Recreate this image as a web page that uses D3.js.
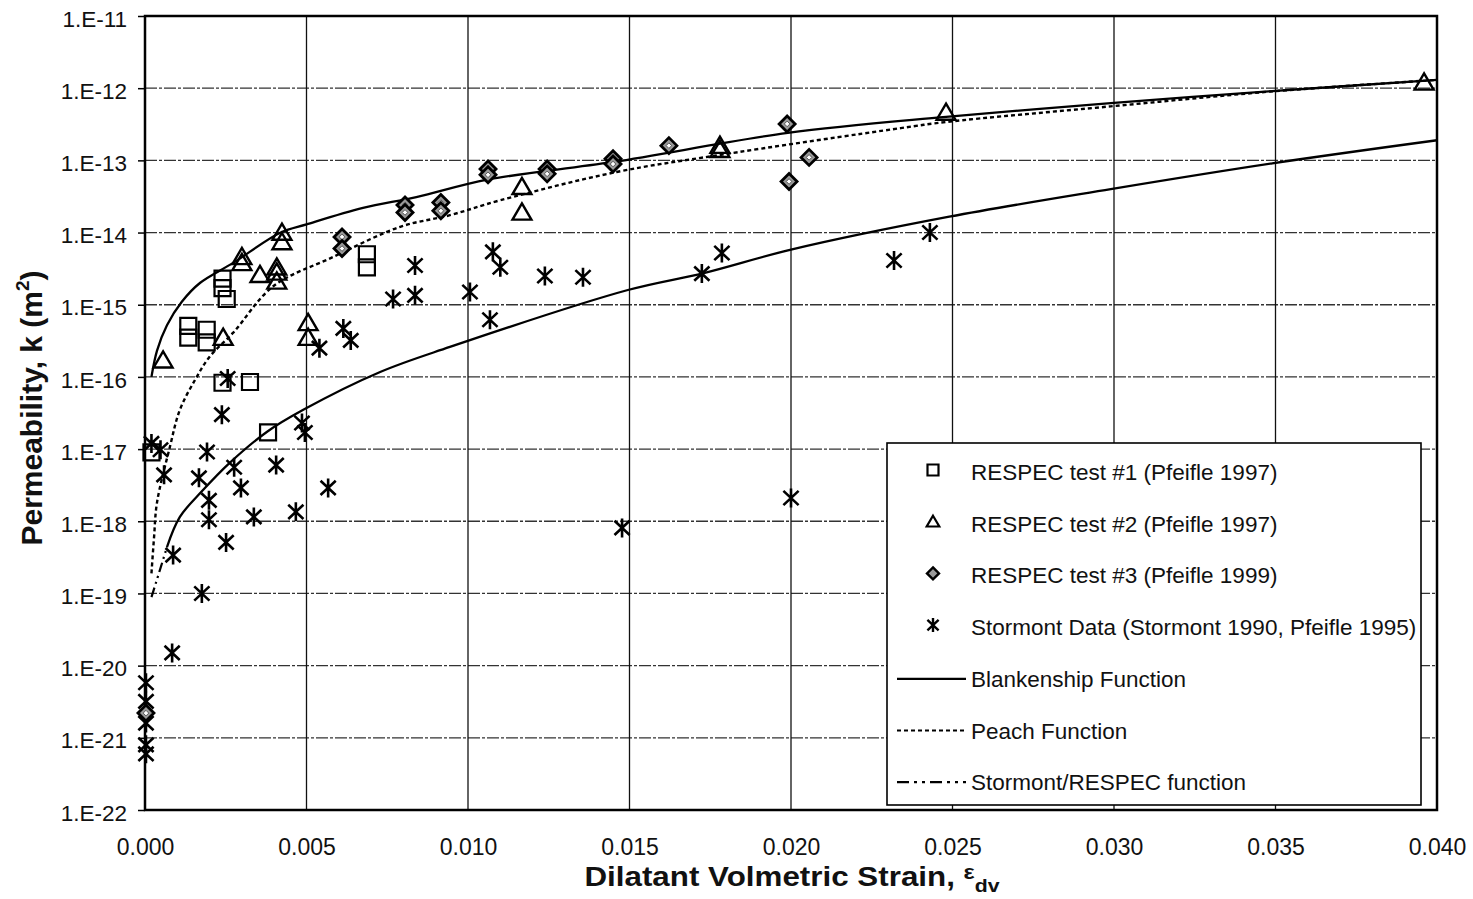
<!DOCTYPE html>
<html>
<head>
<meta charset="utf-8">
<script src="https://cdn.jsdelivr.net/npm/d3@7"></script>
<style>
  body { margin: 0; background: #fff; }
  svg { font-family: "Liberation Sans", Arial, sans-serif; }
</style>
</head>
<body>
<svg id="chart" width="1473" height="899"></svg>
<script>
// values: [strain, permeability m^2]
const respec1 = [
  [0.0002, 9.0e-18], [0.00134, 5.1e-16], [0.00134, 3.5e-16], [0.00191, 4.5e-16], [0.00191, 3.0e-16],
  [0.0024, 2.3e-15], [0.0024, 1.7e-15], [0.00253, 1.2e-15], [0.0024, 8.3e-17], [0.00325, 8.5e-17],
  [0.00381, 1.7e-17], [0.00687, 5.0e-15], [0.00687, 3.3e-15]
]
const respec2 = [
  [0.00056, 1.7e-16], [0.0030, 4.6e-15], [0.0030, 3.8e-15], [0.00356, 2.6e-15], [0.00408, 3.3e-15],
  [0.00408, 2.8e-15], [0.00408, 2.1e-15], [0.00424, 1.0e-14], [0.00424, 7.4e-15], [0.00242, 3.5e-16],
  [0.00505, 5.6e-16], [0.00505, 3.5e-16], [0.01167, 4.3e-14], [0.01167, 1.9e-14], [0.0178, 1.6e-13],
  [0.0178, 1.4e-13], [0.0248, 4.6e-13], [0.0396, 1.2e-12]
]
const respec3 = [
  [0.00003, 2.2e-21], [0.0061, 8.7e-15], [0.0061, 6.0e-15], [0.00805, 2.4e-14], [0.00805, 1.9e-14],
  [0.00916, 2.6e-14], [0.00916, 2.0e-14], [0.01062, 7.6e-14], [0.01062, 6.3e-14], [0.01245, 7.6e-14],
  [0.01245, 6.5e-14], [0.01449, 1.05e-13], [0.01449, 8.9e-14], [0.01622, 1.6e-13], [0.01988, 3.2e-13],
  [0.02056, 1.1e-13], [0.01994, 5.1e-14]
]
const stormont = [
  [0.00836, 3.5e-15], [0.00836, 1.35e-15], [0.00768, 1.2e-15], [0.01006, 1.5e-15], [0.01068, 6.2e-16],
  [0.01077, 5.4e-15], [0.011, 3.3e-15], [0.01238, 2.5e-15], [0.01356, 2.4e-15], [0.01724, 2.7e-15],
  [0.01786, 5.2e-15], [0.02319, 4.1e-15], [0.0243, 1.0e-14], [0.02, 2.1e-18], [0.01477, 8.1e-19],
  [0.00614, 4.7e-16], [0.00637, 3.2e-16], [0.0054, 2.5e-16], [0.00256, 9.5e-17], [0.00238, 3.0e-17],
  [0.00486, 2.3e-17], [0.00495, 1.7e-17], [0.0002, 1.2e-17], [0.00048, 9.8e-18], [0.00059, 4.4e-18],
  [0.00192, 9.1e-18], [0.00167, 4.0e-18], [0.00276, 5.6e-18], [0.00297, 2.9e-18], [0.00198, 1.95e-18],
  [0.00198, 1.05e-18], [0.00337, 1.15e-18], [0.00406, 6.0e-18], [0.00467, 1.35e-18], [0.00567, 2.9e-18],
  [0.00251, 5.1e-19], [0.00087, 3.4e-19], [0.00176, 1.0e-19], [0.00084, 1.5e-20], [0.00003, 5.8e-21],
  [0.00003, 3.2e-21], [0.00003, 1.6e-21], [0.00003, 8.0e-22], [0.00003, 6.0e-22]
]

const blankenship = [
  [0.0002, 1e-16], [0.00037, 2.3e-16], [0.00068, 5.2e-16], [0.00114, 1.1e-15], [0.0017, 2.0e-15],
  [0.00273, 3.8e-15], [0.0042, 1.0e-14], [0.005, 1.3e-14], [0.00675, 2.2e-14], [0.0084, 3.1e-14],
  [0.0106, 5.4e-14], [0.0145, 9.5e-14], [0.0199, 2.4e-13], [0.0248, 4.0e-13], [0.0299, 6.2e-13],
  [0.0349, 9.1e-13], [0.04, 1.3e-12]
]
const blankenshipLow = [
  [0.00068, 4.4e-19], [0.00108, 1.15e-18], [0.00176, 2.6e-18], [0.00263, 6.5e-18], [0.00378, 1.74e-17],
  [0.0049, 3.5e-17], [0.00728, 1.17e-16], [0.00944, 2.6e-16], [0.01495, 1.6e-15], [0.0173, 2.75e-15],
  [0.02, 5.8e-15], [0.0249, 1.66e-14], [0.0299, 4.0e-14], [0.0349, 9.1e-14], [0.04, 1.9e-13]
]
const peach = [
  [0.0002, 1.9e-19], [0.00028, 6.0e-19], [0.00037, 1.8e-18], [0.00077, 1.07e-17], [0.00108, 3.5e-17],
  [0.00155, 9.1e-17], [0.002, 1.9e-16], [0.00273, 4.1e-16], [0.00397, 1.8e-15], [0.00583, 4.6e-15],
  [0.0079, 1.2e-14], [0.00944, 1.74e-14], [0.011, 2.8e-14], [0.0146, 6.9e-14], [0.0177, 1.17e-13],
  [0.0234, 2.8e-13], [0.0248, 3.4e-13], [0.0299, 5.6e-13], [0.035, 9.1e-13], [0.04, 1.3e-12]
]
const stormontRespec = [
  [0.0002, 8.9e-20], [0.00046, 2.1e-19], [0.00068, 4.4e-19]
]

const xTicks = [0, 0.005, 0.01, 0.015, 0.02, 0.025, 0.03, 0.035, 0.04]
const xLabels = ['0.000', '0.005', '0.010', '0.015', '0.020', '0.025', '0.030', '0.035', '0.040']
const yTicks = [1e-11, 1e-12, 1e-13, 1e-14, 1e-15, 1e-16, 1e-17, 1e-18, 1e-19, 1e-20, 1e-21, 1e-22]
const yLabels = ['1.E-11', '1.E-12', '1.E-13', '1.E-14', '1.E-15', '1.E-16', '1.E-17', '1.E-18', '1.E-19', '1.E-20', '1.E-21', '1.E-22']

const legendItems = [
  { name: 'RESPEC test #1 (Pfeifle 1997)', kind: 'square' },
  { name: 'RESPEC test #2 (Pfeifle 1997)', kind: 'triangle' },
  { name: 'RESPEC test #3 (Pfeifle 1999)', kind: 'diamond' },
  { name: 'Stormont Data (Stormont 1990, Pfeifle 1995)', kind: 'star' },
  { name: 'Blankenship Function', kind: 'solid' },
  { name: 'Peach Function', kind: 'dot' },
  { name: 'Stormont/RESPEC function', kind: 'dashdot' }
]

const plotL = 145, plotR = 1437, plotT = 16, plotB = 810

const xScale = d3.scaleLinear().domain([0, 0.04]).range([plotL, plotR])
const yScale = d3.scaleLog().domain([1e-22, 1e-11]).range([plotB, plotT])

const svg = d3.select('svg#chart')

// grid
svg.append('g')
  .selectAll('line')
  .data(yTicks)
  .enter()
  .append('line')
  .attr('x1', plotL).attr('x2', plotR)
  .attr('y1', d => yScale(d)).attr('y2', d => yScale(d))
  .attr('stroke', '#333')
  .attr('stroke-width', 1.3)
  .attr('stroke-dasharray', '12,2,3,2')

svg.append('g')
  .selectAll('line')
  .data(xTicks)
  .enter()
  .append('line')
  .attr('x1', d => xScale(d)).attr('x2', d => xScale(d))
  .attr('y1', plotT).attr('y2', plotB)
  .attr('stroke', '#111')
  .attr('stroke-width', 1.3)

// frame
svg.append('rect')
  .attr('x', plotL).attr('y', plotT)
  .attr('width', plotR - plotL).attr('height', plotB - plotT)
  .attr('fill', 'none')
  .attr('stroke', '#000')
  .attr('stroke-width', 2.5)

// axes
const yAxis = svg.append('g')
  .attr('transform', `translate(${plotL},0)`)
  .call(d3.axisLeft(yScale).tickValues(yTicks).tickFormat((d, i) => yLabels[i]).tickSize(7).tickPadding(11))
yAxis.select('.domain').remove()
yAxis.selectAll('line').attr('stroke-width', 1.5)
yAxis.selectAll('text').attr('font-size', '22.5px').attr('dy', '0.45em').attr('fill', '#111')
  .attr('font-family', 'Liberation Sans, Arial')

const xAxis = svg.append('g')
  .attr('transform', `translate(0,${plotB})`)
  .call(d3.axisBottom(xScale).tickValues(xTicks).tickFormat((d, i) => xLabels[i]).tickSize(0).tickPadding(29))
xAxis.select('.domain').remove()
xAxis.selectAll('text').attr('font-size', '23px').attr('fill', '#111').attr('font-family', 'Liberation Sans, Arial')

// function curves
const line = d3.line()
  .x(d => xScale(d[0]))
  .y(d => yScale(d[1]))
  .curve(d3.curveCatmullRom.alpha(0.5))

svg.append('path').datum(blankenship)
  .attr('d', line).attr('fill', 'none').attr('stroke', '#000').attr('stroke-width', 2.3)
svg.append('path').datum(blankenshipLow)
  .attr('d', line).attr('fill', 'none').attr('stroke', '#000').attr('stroke-width', 2.3)
svg.append('path').datum(peach)
  .attr('d', line).attr('fill', 'none').attr('stroke', '#000').attr('stroke-width', 2.4)
  .attr('stroke-dasharray', '4,3')
svg.append('path').datum(stormontRespec)
  .attr('d', line).attr('fill', 'none').attr('stroke', '#000').attr('stroke-width', 2.2)
  .attr('stroke-dasharray', '10,4,2,4,2,4')

// marker shapes
const squarePath = s => `M${-s},${-s}H${s}V${s}H${-s}Z`
const trianglePath = s => `M0,${-s}L${s * 1.05},${s * 0.8}H${-s * 1.05}Z`
const diamondPath = s => `M0,${-s}L${s},0L0,${s}L${-s},0Z`
const starPath = s => `M0,${-s}V${s}M${-s * 0.8},${-s * 0.75}L${s * 0.8},${s * 0.75}M${-s * 0.8},${s * 0.75}L${s * 0.8},${-s * 0.75}`

function drawSquares(g, data, s) {
  g.selectAll('path.sq').data(data).enter().append('path')
    .attr('class', 'sq')
    .attr('transform', d => `translate(${xScale(d[0])},${yScale(d[1])})`)
    .attr('d', squarePath(s))
    .attr('fill', 'none').attr('stroke', '#000').attr('stroke-width', 2.2)
}
function drawTriangles(g, data, s) {
  g.selectAll('path.tri').data(data).enter().append('path')
    .attr('class', 'tri')
    .attr('transform', d => `translate(${xScale(d[0])},${yScale(d[1])})`)
    .attr('d', trianglePath(s))
    .attr('fill', 'none').attr('stroke', '#000').attr('stroke-width', 2.4)
}
function drawDiamonds(g, data, s) {
  const dg = g.selectAll('g.dia').data(data).enter().append('g')
    .attr('class', 'dia')
    .attr('transform', d => `translate(${xScale(d[0])},${yScale(d[1])})`)
  dg.append('path').attr('d', diamondPath(s))
    .attr('fill', '#999').attr('stroke', '#000').attr('stroke-width', 2.8)
  dg.append('path').attr('d', diamondPath(s * 0.35))
    .attr('fill', '#fff').attr('stroke', '#555').attr('stroke-width', 1)
}
function drawStars(g, data, s) {
  g.selectAll('path.st').data(data).enter().append('path')
    .attr('class', 'st')
    .attr('transform', d => `translate(${xScale(d[0])},${yScale(d[1])})`)
    .attr('d', starPath(s))
    .attr('fill', 'none').attr('stroke', '#000').attr('stroke-width', 2.6)
}

const marks = svg.append('g')
drawStars(marks.append('g'), stormont, 9.5)
drawSquares(marks.append('g'), respec1, 8)
drawTriangles(marks.append('g'), respec2, 9)
drawDiamonds(marks.append('g'), respec3, 8)

// legend
const legend = svg.append('g')
legend.append('rect')
  .attr('x', 887).attr('y', 443)
  .attr('width', 534).attr('height', 362)
  .attr('fill', '#fff')
  .attr('stroke', '#000')
  .attr('stroke-width', 1.6)

const rows = legend.selectAll('g.row')
  .data(legendItems)
  .enter()
  .append('g')
  .attr('class', 'row')
  .attr('transform', (d, i) => `translate(0,${472 + i * 51.7})`)

rows.append('text')
  .attr('x', 971).attr('y', 8)
  .attr('font-size', '22.5px')
  .attr('fill', '#111')
  .text(d => d.name)

rows.filter(d => d.kind === 'square').append('path')
  .attr('transform', 'translate(933,-2)').attr('d', squarePath(5.5))
  .attr('fill', 'none').attr('stroke', '#000').attr('stroke-width', 2.2)
rows.filter(d => d.kind === 'triangle').append('path')
  .attr('transform', 'translate(933,-2)').attr('d', trianglePath(6))
  .attr('fill', 'none').attr('stroke', '#000').attr('stroke-width', 2.2)
rows.filter(d => d.kind === 'diamond').append('path')
  .attr('transform', 'translate(933,-2)').attr('d', diamondPath(6))
  .attr('fill', '#999').attr('stroke', '#000').attr('stroke-width', 2.4)
rows.filter(d => d.kind === 'star').append('path')
  .attr('transform', 'translate(933,-2)').attr('d', starPath(7))
  .attr('fill', 'none').attr('stroke', '#000').attr('stroke-width', 2.4)

const dashes = { solid: null, dot: '4,3', dashdot: '12,5,3,5,3,5' }
rows.filter(d => d.kind in dashes).append('line')
  .attr('x1', 897).attr('x2', 966).attr('y1', 0).attr('y2', 0)
  .attr('stroke', '#000').attr('stroke-width', 2.2)
  .attr('stroke-dasharray', d => dashes[d.kind])

// axis titles
svg.append('text')
  .attr('transform', 'translate(42,408) rotate(-90)')
  .attr('text-anchor', 'middle')
  .attr('font-size', '30px')
  .attr('font-weight', 'bold')
  .attr('fill', '#111')
  .call(t => {
    t.append('tspan').text('Permeability, k (m')
    t.append('tspan').attr('font-size', '19px').attr('dy', -13).text('2')
    t.append('tspan').attr('dy', 13).text(')')
  })

svg.append('text')
  .attr('transform', 'translate(792,886) scale(1.12,1)')
  .attr('text-anchor', 'middle')
  .attr('font-size', '28px')
  .attr('font-weight', 'bold')
  .attr('fill', '#111')
  .call(t => {
    t.append('tspan').text('Dilatant Volmetric Strain, ')
    t.append('tspan').attr('font-size', '21px').attr('dy', -7).text('ε')
    t.append('tspan').attr('font-size', '19px').attr('dy', 13).text('dv')
  })
</script>
</body>
</html>
